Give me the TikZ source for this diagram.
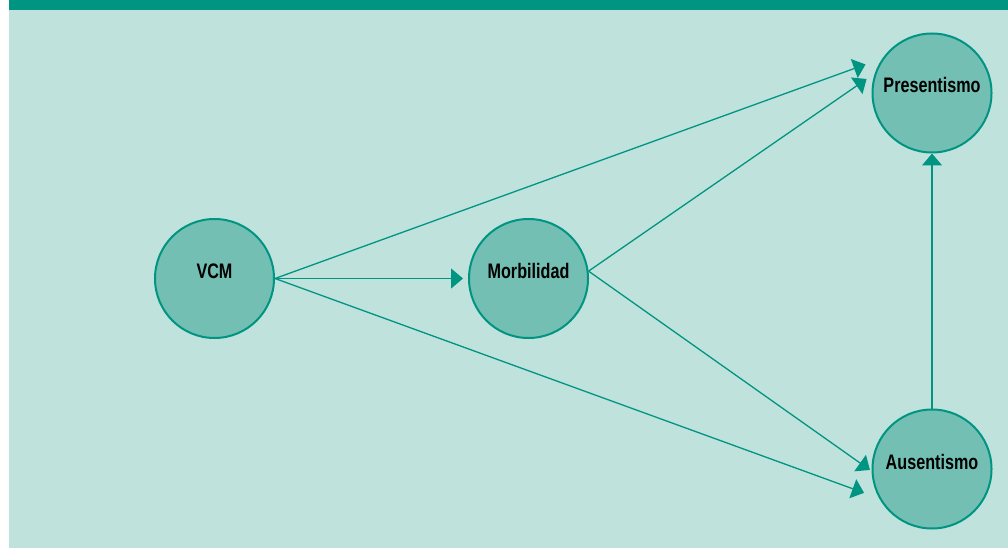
\documentclass[tikz,border=0pt]{standalone}
\usepackage{fontspec}
\setmainfont{Liberation Sans}[FakeStretch=0.77]
\usetikzlibrary{arrows.meta}
\definecolor{tealA}{HTML}{009482}
\definecolor{panelA}{HTML}{C0E2DC}
\definecolor{nodefillA}{HTML}{73BFB3}
\tikzset{
  circnode/.style={circle, draw=tealA, line width=2pt, fill=nodefillA,
    minimum size=119pt, inner sep=0pt, text height=0pt, text depth=0pt,
    font=\bfseries\fontsize{21}{21}\selectfont, text=black},
  conn/.style={draw=tealA, line width=1.3pt, -{Triangle[length=12pt,width=20pt]}}
}
\begin{document}
\begin{tikzpicture}[x=1pt,y=-1pt]
\useasboundingbox (0,0) rectangle (1008,548);
\fill[panelA] (9,0) rectangle (1008,548);
\fill[tealA] (9,0) rectangle (1008,10);
\node[circnode] (v) at (214.5,278.5) {VCM};
\node[circnode] (m) at (528.5,278.5) {Morbilidad};
\node[circnode] (p) at (932,93) {Presentismo};
\node[circnode] (a) at (932,469) {Ausentismo};
\draw[conn, shorten >=5pt] (v.east) -- (m.west);
\draw[conn, shorten >=18pt] (v.east) -- (p.145.6);
\draw[conn, shorten >=10pt] (m.7) -- (p.161.8);
\draw[conn, shorten >=16pt] (v.east) -- (a.209.8);
\draw[conn, shorten >=2pt] (m.7) -- (a.182.5);
\draw[conn] (a.north) -- (p.south);
\end{tikzpicture}
\end{document}
